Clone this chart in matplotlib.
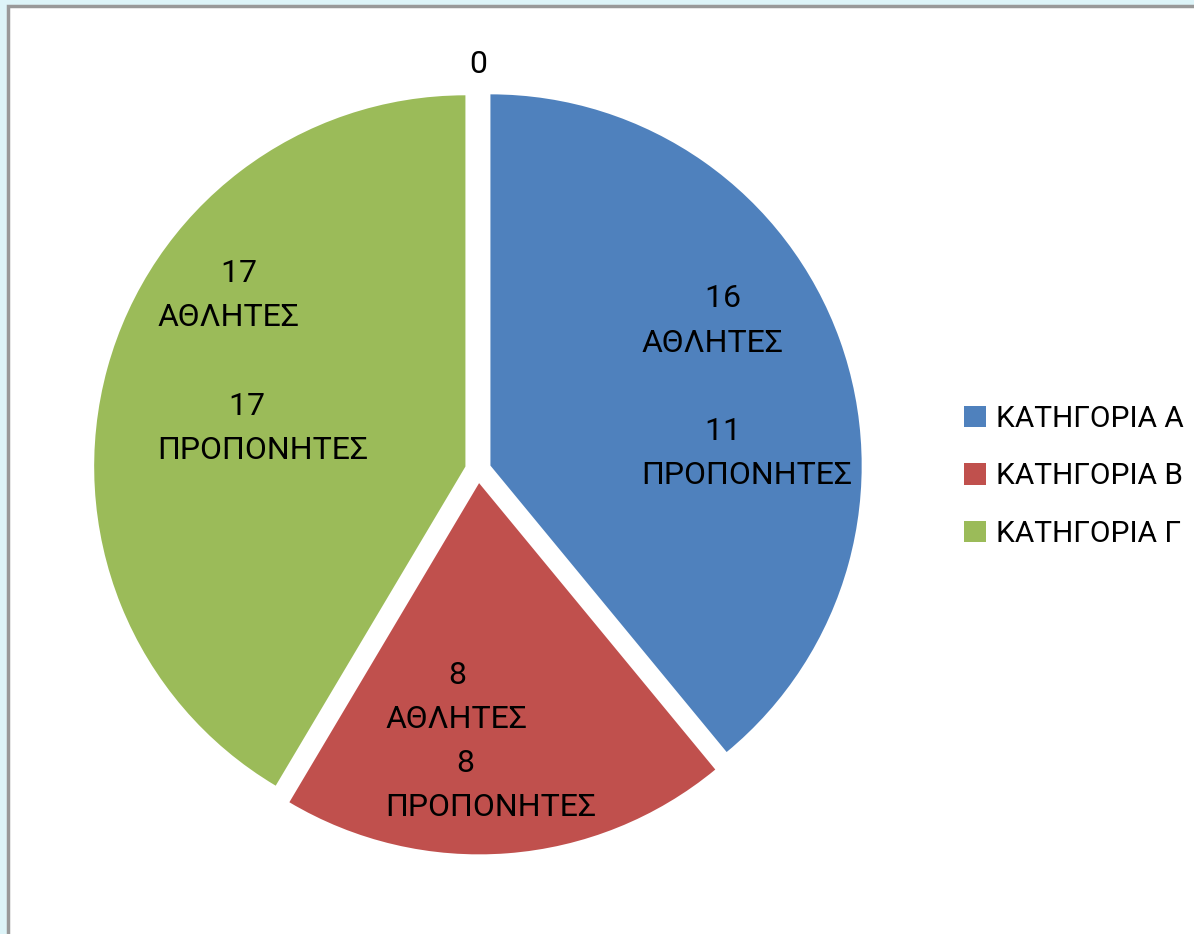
import matplotlib
matplotlib.use("Agg")
import matplotlib.pyplot as plt
from matplotlib.patches import Rectangle, Patch

plt.rcParams['font.family'] = ['Roboto', 'DejaVu Sans']

# data
categories = ['ΚΑΤΗΓΟΡΙΑ Α', 'ΚΑΤΗΓΟΡΙΑ Β', 'ΚΑΤΗΓΟΡΙΑ Γ', '']
athletes = [16, 8, 17, 0]
coaches = [11, 8, 17, 0]
colors = ['#4F81BD', '#C0504D', '#9BBB59', '#F79646']

# label text per slice (the numbers are padded the way the original is)
labels = [
    '        16\nΑΘΛΗΤΕΣ\n\n        11\nΠΡΟΠΟΝΗΤΕΣ',
    '        8\nΑΘΛΗΤΕΣ\n         8\nΠΡΟΠΟΝΗΤΕΣ',
    '        17\nΑΘΛΗΤΕΣ\n\n         17\nΠΡΟΠΟΝΗΤΕΣ',
    '0',
]
# where each label sits (left, top), in pie radius units
label_pos = [(0.435, 0.495), (-0.248, -0.508), (-0.856, 0.562), (0.0, 1.12)]

fig = plt.figure(figsize=(11.94, 9.34), dpi=100)
fig.patch.set_facecolor('#DDF4F8')
fig.patches.append(Rectangle((8 / 1194, -0.01), 1.0, 1 - 6 / 934 + 0.01, transform=fig.transFigure,
                             facecolor='white', edgecolor='#999999', linewidth=2.5, zorder=-10))

ax = fig.add_axes([0.0549, 0.0551, 0.691, 0.8833])
ax.set_zorder(1)
wedges, _ = ax.pie(athletes, colors=colors, startangle=90, counterclock=False,
                   explode=[0.035] * len(athletes), radius=0.99,
                   wedgeprops=dict(linewidth=0, clip_on=False))
ax.set_xlim(-1.1, 1.1)
ax.set_ylim(-1.1, 1.1)
ax.set_aspect('equal')
ax.axis('off')

for (x, y), txt in zip(label_pos, labels):
    if txt == '0':
        ax.text(x, y, txt, ha='center', va='top', fontsize=23, color='black')
    else:
        ax.text(x, y, txt, ha='left', va='top', fontsize=23, color='black',
                linespacing=1.66, multialignment='left')

handles = [Patch(facecolor=c, edgecolor='none') for c in colors[:3]]
leg = fig.legend(handles, categories[:3], loc='center left', bbox_to_anchor=(0.785, 0.49),
                 frameon=False, fontsize=21.5, handlelength=0.72, handleheight=0.72,
                 handletextpad=0.35, labelspacing=0.98)
leg.set_zorder(2)

fig.savefig('out.png', dpi=100, facecolor=fig.get_facecolor())
